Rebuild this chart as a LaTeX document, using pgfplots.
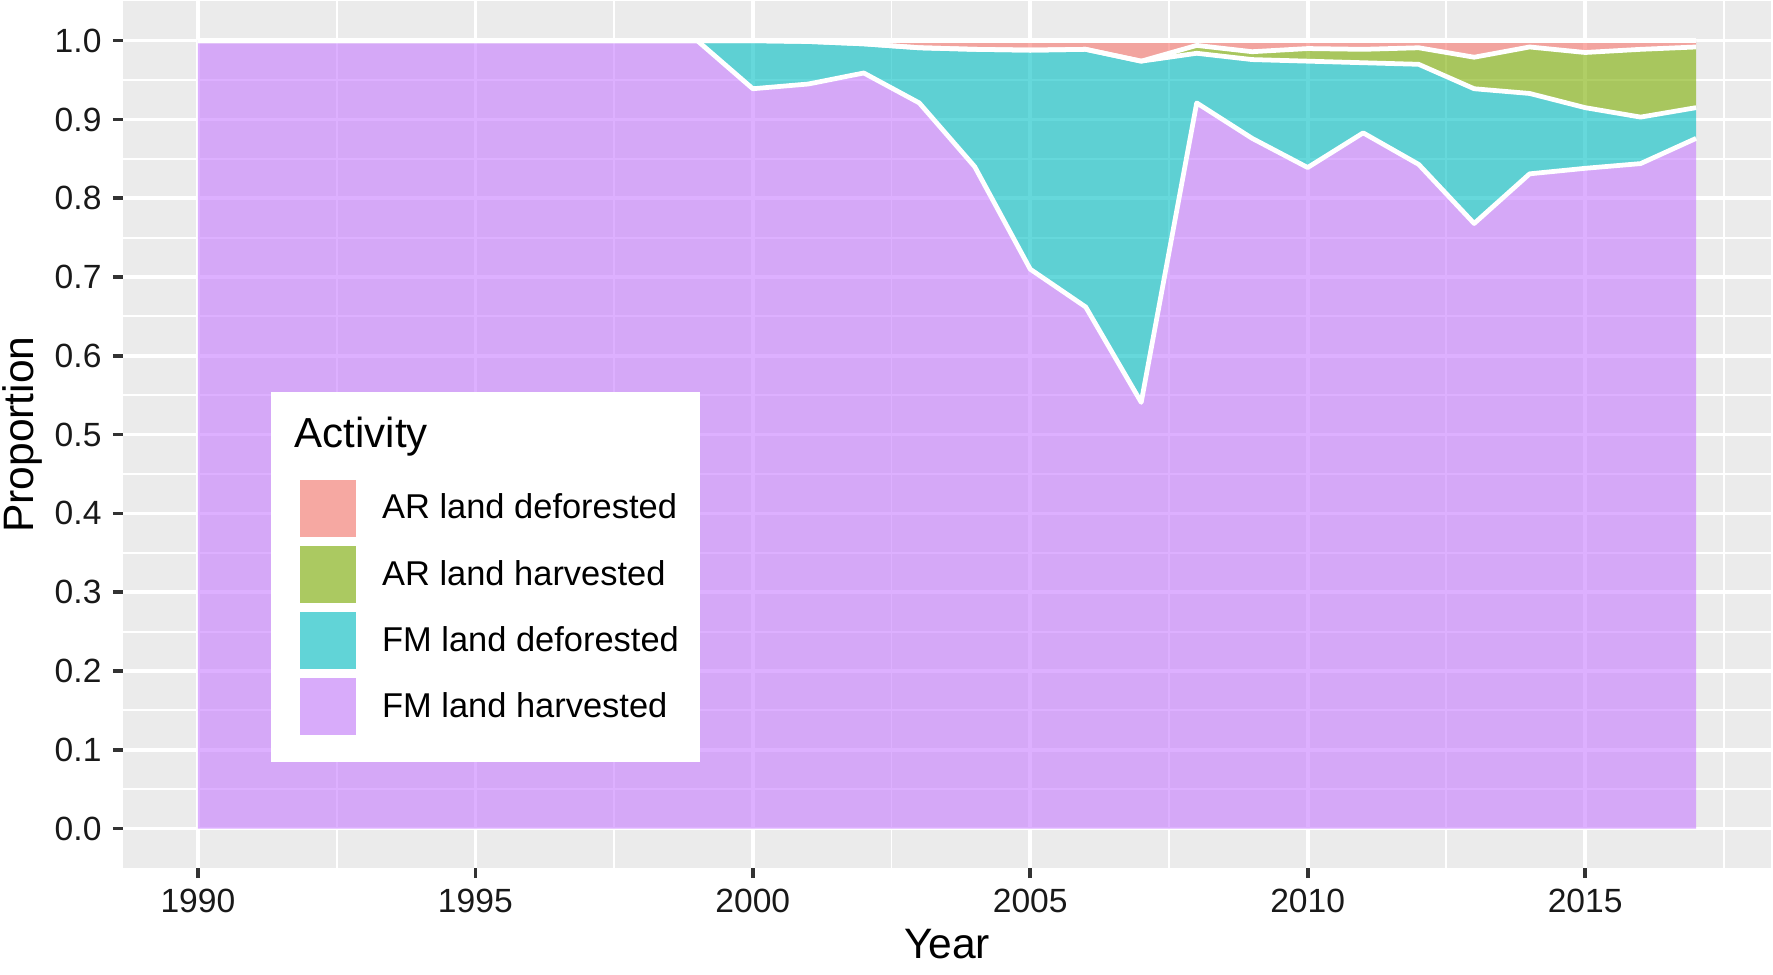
\documentclass[border=0pt]{standalone}
\usepackage{pgfplots}
\pgfplotsset{compat=1.18}
\usepackage{pgfplotstable}
\usepackage{fontspec}
\setmainfont{Liberation Sans}

\definecolor{ggbg}{HTML}{EBEBEB}
\definecolor{cARD}{HTML}{F8766D}
\definecolor{cARH}{HTML}{7CAE00}
\definecolor{cFMD}{HTML}{00BFC4}
\definecolor{cFMH}{HTML}{C77CFF}
\definecolor{kARD}{RGB}{246,168,162}
\definecolor{kARH}{RGB}{171,201,97}
\definecolor{kFMD}{RGB}{97,212,215}
\definecolor{kFMH}{RGB}{216,171,250}
\definecolor{tickc}{HTML}{333333}

\pgfplotstableread{
year fmh fmd arh ard
1990 1 0 0 0
1991 1 0 0 0
1992 1 0 0 0
1993 1 0 0 0
1994 1 0 0 0
1995 1 0 0 0
1996 1 0 0 0
1997 1 0 0 0
1998 1 0 0 0
1999 1 0 0 0
2000 0.939 0.061 0 0
2001 0.945 0.054 0 0.001
2002 0.959 0.037 0 0.004
2003 0.921 0.070 0 0.009
2004 0.840 0.149 0 0.011
2005 0.710 0.278 0 0.012
2006 0.662 0.327 0 0.011
2007 0.541 0.433 0 0.026
2008 0.921 0.063 0.010 0.006
2009 0.876 0.100 0.010 0.014
2010 0.839 0.135 0.016 0.010
2011 0.883 0.089 0.017 0.011
2012 0.843 0.127 0.021 0.009
2013 0.768 0.171 0.040 0.021
2014 0.831 0.102 0.059 0.008
2015 0.838 0.077 0.070 0.015
2016 0.844 0.059 0.086 0.011
2017 0.876 0.039 0.077 0.008
}\data

\begin{document}
\begin{tikzpicture}
\begin{axis}[
  at={(0,0)}, anchor=south west,
  scale only axis,
  width=588.57pt, height=309.54pt,
  xmin=1988.65, xmax=2018.35,
  ymin=-0.05, ymax=1.05,
  axis background/.style={fill=ggbg},
  axis line style={draw=none},
  xtick={1990,1995,2000,2005,2010,2015},
  minor xtick={1992.5,1997.5,2002.5,2007.5,2012.5,2017.5},
  ytick={0,0.1,0.2,0.3,0.4,0.5,0.6,0.7,0.8,0.9,1.0},
  minor ytick={0.05,0.15,0.25,0.35,0.45,0.55,0.65,0.75,0.85,0.95},
  grid=both,
  major grid style={white, line width=1.3pt},
  minor grid style={white, line width=0.68pt},
  xtick pos=bottom, ytick pos=left,
  tick align=outside,
  major tick length=3.6pt,
  minor tick length=0pt,
  tick style={color=tickc, line width=1.3pt},
  /pgf/number format/assume math mode=true,
  ticklabel style={font=\fontsize{12}{14}\selectfont, text=black!90, inner sep=0pt},
  xticklabel style={/pgf/number format/1000 sep={}, anchor=north},
  yticklabel style={/pgf/number format/.cd, fixed, fixed zerofill, precision=1, /tikz/.cd, anchor=east},
  xticklabel shift=3.6pt,
  yticklabel shift=3.9pt,
  xlabel={Year}, ylabel={Proportion},
  every axis x label/.style={at={(axis description cs:0.5,-0.10435)}, anchor=base, font=\fontsize{15.2}{17}\selectfont},
  every axis y label/.style={at={(axis description cs:-0.05403,0.5)}, anchor=base, rotate=90, font=\fontsize{15.2}{17}\selectfont},
  legend cell align=left,
  legend style={at={(0.10680,0.44802)}, anchor=north west, draw=none, fill=none,
    inner sep=0pt, row sep=3.4pt, column sep=9.3pt,
    nodes={inner sep=0pt},
    font=\fontsize{12.3}{14}\selectfont},
  legend image code/.code={\fill[#1] (0pt,-10.1pt) rectangle (20.2pt,10.1pt);},
]
\addplot[stack plots=y, forget plot, fill=cFMH, fill opacity=0.6, draw=none] table[x=year,y=fmh]{\data} \closedcycle;
\addplot[stack plots=y, forget plot, fill=cFMD, fill opacity=0.6, draw=none] table[x=year,y=fmd]{\data} \closedcycle;
\addplot[stack plots=y, forget plot, fill=cARH, fill opacity=0.6, draw=none] table[x=year,y=arh]{\data} \closedcycle;
\addplot[stack plots=y, forget plot, fill=cARD, fill opacity=0.6, draw=none] table[x=year,y=ard]{\data} \closedcycle;

\addplot[forget plot, white, line width=1.7pt, line join=round] table[x=year, y expr=\thisrow{fmh}+\thisrow{fmd}+\thisrow{arh}+\thisrow{ard}]{\data};
\addplot[forget plot, white, line width=1.7pt, line join=round] table[x=year, y expr=\thisrow{fmh}+\thisrow{fmd}+\thisrow{arh}]{\data};
\addplot[forget plot, white, line width=1.7pt, line join=round] table[x=year, y expr=\thisrow{fmh}+\thisrow{fmd}]{\data};
\addplot[forget plot, white, line width=1.7pt, line join=round] table[x=year, y expr=\thisrow{fmh}]{\data};

\fill[white] (rel axis cs:0.08981,0.12196) rectangle (rel axis cs:0.35012,0.54953);
\node[anchor=base west, inner sep=0pt, font=\fontsize{15}{17}\selectfont] at (rel axis cs:0.10395,0.48459) {Activity};

\addlegendimage{fill=kARD, draw=none}
\addlegendentry{AR land deforested}
\addlegendimage{fill=kARH, draw=none}
\addlegendentry{AR land harvested}
\addlegendimage{fill=kFMD, draw=none}
\addlegendentry{FM land deforested}
\addlegendimage{fill=kFMH, draw=none}
\addlegendentry{FM land harvested}
\end{axis}
\pgfresetboundingbox
\path[use as bounding box] (-43.93pt,-37.86pt) rectangle (589.29pt,310pt);
\end{tikzpicture}
\end{document}
